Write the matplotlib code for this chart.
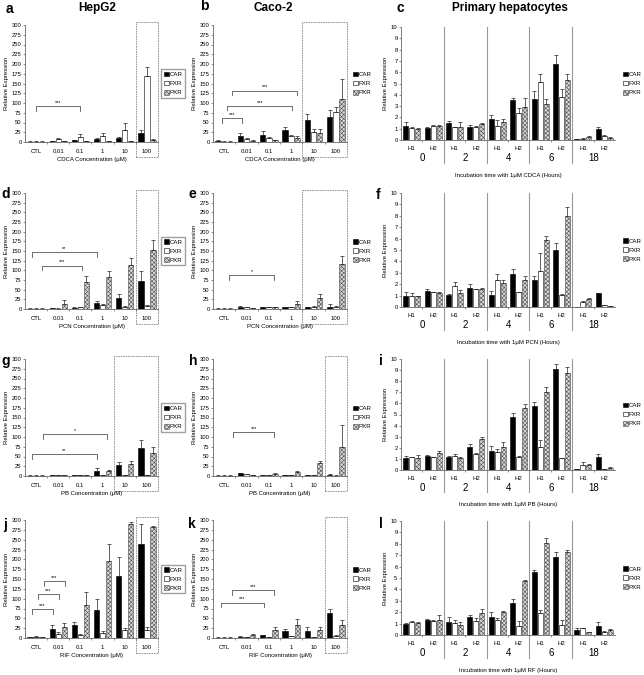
import numpy as np
import matplotlib.pyplot as plt
import matplotlib.transforms as mtransforms
from matplotlib.patches import Rectangle

plt.rcParams['font.family'] = ['Liberation Sans', 'DejaVu Sans']
plt.rcParams['hatch.linewidth'] = 0.4

W, H = 644, 675

conc = ['CTL', '0.01', '0.1', '1', '10', '100']
donors = ['H1', 'H2'] * 5
hours = ['0', '2', '4', '6', '18']
receptors = ['CAR', 'FXR', 'PXR']

# cell lines: rows are CAR, FXR, PXR over conc
a_vals = [[1, 2, 4, 8, 11, 22], [1, 8, 13, 16, 32, 168], [1, 2, 2, 3, 2, 6]]
a_errs = [[0.5, 0.5, 1, 2, 1, 8], [0.5, 2, 7, 8, 16, 25], [0.5, 0.5, 0.5, 0.5, 0.5, 1]]
b_vals = [[3, 15, 17, 30, 56, 65], [1, 8, 10, 15, 26, 78], [1, 3, 4, 10, 23, 111]]
b_errs = [[1, 7, 11, 9, 16, 18], [0.5, 2, 3, 3, 7, 11], [0.5, 1, 2, 6, 10, 50]]
d_vals = [[1, 2, 3, 15, 29, 73], [1, 1, 4, 10, 6, 9], [1, 12, 71, 84, 114, 153]]
d_errs = [[0.5, 0.5, 1, 6, 10, 24], [0.5, 0.5, 1, 2, 1, 2], [0.5, 11, 15, 14, 17, 26]]
e_vals = [[1, 6, 4, 4, 4, 5], [1, 4, 4, 4, 6, 5], [1, 2, 4, 12, 28, 116]]
e_errs = [[0.5, 1, 1, 1, 2, 7], [0.5, 1, 1, 1, 1, 4], [0.5, 1, 1, 9, 11, 22]]
g_vals = [[1, 2, 3, 13, 28, 71], [1, 3, 2, 2, 2, 3], [1, 2, 2, 12, 31, 60]]
g_errs = [[0.5, 0.5, 0.5, 7, 9, 22], [0.5, 0.5, 0.5, 0.5, 0.5, 0.5], [0.5, 0.5, 0.5, 3, 8, 15]]
h_vals = [[1, 7, 2, 2, 2, 3], [1, 5, 2, 2, 2, 1], [1, 2, 5, 11, 33, 75]]
h_errs = [[0.5, 1, 0.5, 0.5, 0.5, 1], [0.5, 1, 0.5, 0.5, 0.5, 0.5], [0.5, 0.5, 2, 2, 5, 56]]
j_vals = [[2, 23, 34, 72, 158, 239], [3, 10, 7, 13, 21, 21], [2, 28, 83, 197, 289, 283]]
j_errs = [[0.5, 9, 7, 28, 47, 50], [1, 5, 2, 4, 4, 6], [0.5, 10, 35, 41, 7, 3]]
k_vals = [[1, 3, 7, 17, 19, 64], [1, 3, 3, 4, 3, 6], [1, 8, 20, 34, 20, 34]]
k_errs = [[0.5, 1, 1, 7, 8, 9], [0.5, 0.5, 0.5, 0.5, 0.5, 1], [0.5, 3, 8, 14, 8, 13]]

# primary hepatocytes: 0H1, 0H2, 2H1, 2H2, 4H1, 4H2, 6H1, 6H2, 18H1, 18H2
c_vals = [[1.2, 1.03, 1.53, 1.12, 1.9, 3.5, 3.6, 6.76, 0.05, 0.94],
          [1.1, 1.24, 1.12, 1.18, 1.27, 2.35, 5.1, 3.8, 0.1, 0.35],
          [1.0, 1.26, 1.12, 1.42, 1.56, 2.9, 3.2, 5.3, 0.3, 0.2]]
c_errs = [[0.4, 0.1, 0.15, 0.2, 0.3, 0.2, 0.7, 0.8, 0.02, 0.25],
          [0.05, 0.05, 0.05, 0.05, 0.5, 0.45, 0.75, 0.75, 0.05, 0.08],
          [0.05, 0.05, 0.45, 0.12, 0.3, 0.8, 0.4, 0.5, 0.06, 0.03]]
f_vals = [[0.95, 1.4, 1.05, 1.7, 1.05, 2.9, 2.4, 5.0, 0.02, 1.2],
          [0.95, 1.3, 1.8, 1.55, 2.4, 1.3, 3.2, 1.05, 0.4, 0.15],
          [0.95, 1.25, 1.2, 1.6, 2.1, 2.4, 5.9, 8.0, 0.7, 0.1]]
f_errs = [[0.35, 0.2, 0.1, 0.3, 0.35, 0.45, 0.3, 0.6, 0.01, 0.05],
          [0.25, 0.05, 0.4, 0.05, 0.5, 0.05, 1.5, 0.05, 0.15, 0.02],
          [0.05, 0.05, 0.3, 0.05, 0.25, 0.3, 0.35, 0.8, 0.05, 0.02]]
i_vals = [[1.05, 1.27, 1.2, 2.05, 1.75, 4.76, 5.8, 9.1, 0.05, 1.2],
          [1.15, 1.15, 1.27, 1.45, 1.65, 1.2, 2.1, 1.05, 0.45, 0.1],
          [1.1, 1.5, 1.1, 2.8, 2.1, 5.57, 7.0, 8.7, 0.45, 0.2]]
i_errs = [[0.25, 0.05, 0.05, 0.3, 0.45, 0.35, 0.3, 0.45, 0.02, 0.2],
          [0.05, 0.05, 0.15, 0.05, 0.25, 0.05, 0.6, 0.05, 0.25, 0.02],
          [0.25, 0.2, 0.05, 0.2, 0.45, 0.4, 0.5, 0.6, 0.05, 0.03]]
l_vals = [[0.94, 1.3, 1.17, 1.55, 1.6, 2.8, 5.5, 6.87, 0.44, 0.82],
          [1.1, 1.23, 1.08, 1.23, 1.3, 0.8, 1.9, 0.88, 0.58, 0.29],
          [1.08, 1.3, 0.88, 1.9, 2.05, 4.77, 8.04, 7.25, 0.23, 0.44]]
l_errs = [[0.1, 0.1, 0.38, 0.2, 0.4, 0.4, 0.2, 0.45, 0.2, 0.35],
          [0.1, 0.05, 0.2, 0.3, 0.2, 0.45, 0.3, 0.42, 0.05, 0.05],
          [0.1, 0.45, 0.3, 0.4, 0.05, 0.05, 0.45, 0.2, 0.03, 0.05]]

# significance brackets: (from, to, height, stars)
a_sig = [(0.0, 2.0, 92, '***')]
b_sig = [(-0.1, 0.8, 61, '***'), (0.13, 3.05, 93, '***'), (0.36, 3.27, 132, '***')]
d_sig = [(-0.2, 2.75, 147, '**'), (0.27, 2.07, 112, '***')]
e_sig = [(0.22, 2.24, 88, '*')]
g_sig = [(0.31, 3.19, 108, '*'), (-0.18, 2.74, 56, '**')]
h_sig = [(0.4, 2.24, 112, '***')]
j_sig = [(-0.18, 0.76, 74, '***'), (0.09, 1.03, 112, '***'), (0.36, 1.3, 144, '***')]
k_sig = [(0.35, 2.24, 121, '***'), (-0.14, 1.79, 90, '***')]

styles = [dict(facecolor='black', edgecolor='black'),
          dict(facecolor='white', edgecolor='black'),
          dict(facecolor='#d9d9d9', edgecolor='#4d4d4d', hatch='xxxxxxxx')]

fig = plt.figure(figsize=(W / 100, H / 100), dpi=100)


def px_axes(x0, x1, top, bottom):
    return fig.add_axes([x0 / W, 1 - bottom / H, (x1 - x0) / W, (bottom - top) / H])


def draw_bars(ax, vals, errs, offs, legend_frame):
    x = np.arange(len(vals[0]))
    for k in range(3):
        ax.bar(x + offs[k], vals[k], width=0.24, linewidth=0.4, label=receptors[k],
               yerr=[np.zeros(len(x)), errs[k]], **styles[k],
               error_kw=dict(elinewidth=0.5, capsize=1.2, capthick=0.5, ecolor='#222222'))
    for s in ['top', 'right']:
        ax.spines[s].set_visible(False)
    for s in ['left', 'bottom']:
        ax.spines[s].set_linewidth(0.6)
        ax.spines[s].set_color('#666666')
    ax.tick_params(axis='y', labelsize=4.2, length=1.5, width=0.5, pad=1, color='#666666')
    ax.set_ylabel('Relative Expression', fontsize=4.3, labelpad=2)
    ax.legend(loc='center left', bbox_to_anchor=(1.025, 0.5), fontsize=4.4, frameon=legend_frame,
              fancybox=False, edgecolor='#888888', handlelength=0.8, handleheight=0.8,
              handletextpad=0.2, borderpad=0.4, labelspacing=0.6, borderaxespad=0)


def cell_panel(x0, x1, top, bottom, vals, errs, drug, sig, box, frame):
    ax = px_axes(x0, x1, top, bottom)
    draw_bars(ax, vals, errs, [-0.27, 0, 0.27], frame)
    ax.set_xlim(-0.5, 5.5)
    ax.set_ylim(0, 300)
    ax.set_yticks(np.arange(0, 301, 25))
    ax.set_xticks(range(len(conc)))
    ax.set_xticklabels(conc)
    ax.set_xticks(np.arange(0.5, 5, 1), minor=True)
    ax.tick_params(axis='x', which='major', length=0, labelsize=4.3, pad=5)
    ax.tick_params(axis='x', which='minor', length=1.5, width=0.5, color='#666666')
    ax.set_xlabel(drug + ' Concentration (μM)', fontsize=4.3, labelpad=2)
    for xa, xb, y, lab in sig:
        ax.plot([xa, xa, xb, xb], [y - 12, y, y, y - 12], color='#555555', lw=0.6)
        ax.text((xa + xb) / 2, y + 3, lab, ha='center', va='bottom', fontsize=4)
    tr = mtransforms.blended_transform_factory(ax.transData, ax.transAxes)
    ax.add_patch(Rectangle((box[0], -0.13), box[1] - box[0], 1.155, transform=tr,
                           fill=False, ec='#888888', lw=0.6, ls=(0, (2, 1)), clip_on=False))
    return ax


def hep_panel(x0, x1, top, bottom, vals, errs, drug):
    ax = px_axes(x0, x1, top, bottom)
    draw_bars(ax, vals, errs, [-0.28, 0, 0.28], False)
    ax.set_xlim(-0.5, 9.5)
    ax.set_ylim(0, 10)
    ax.set_yticks(range(11))
    ax.set_xticks(range(len(donors)))
    ax.set_xticklabels(donors)
    ax.set_xticks(np.arange(0.5, 9, 2), minor=True)
    ax.tick_params(axis='x', which='major', length=0, labelsize=4.3, pad=4)
    ax.tick_params(axis='x', which='minor', length=1.5, width=0.5, color='#666666')
    tr = mtransforms.blended_transform_factory(ax.transData, ax.transAxes)
    for xs in np.arange(1.5, 9, 2):
        ax.plot([xs, xs], [1.0, -0.2], transform=tr, color='#999999', lw=0.8, clip_on=False)
    for gi, hlab in enumerate(hours):
        ax.text(2 * gi + 0.5, -0.16, hlab, transform=tr, ha='center', va='center', fontsize=7)
    ax.text(0.5, -0.31, 'Incubation time with 1μM ' + drug + ' (Hours)', transform=ax.transAxes,
            ha='center', va='center', fontsize=4.3)
    return ax


cell_panel(25, 158, 25, 142, a_vals, a_errs, 'CDCA', a_sig, (4.5, 5.5), True)
cell_panel(213, 347, 25, 142, b_vals, b_errs, 'CDCA', b_sig, (3.5, 5.5), False)
hep_panel(401, 615, 27, 140, c_vals, c_errs, 'CDCA')
cell_panel(25, 158, 193, 309, d_vals, d_errs, 'PCN', d_sig, (4.5, 5.5), True)
cell_panel(213, 347, 193, 309, e_vals, e_errs, 'PCN', e_sig, (3.5, 5.5), False)
hep_panel(401, 615, 193, 307, f_vals, f_errs, 'PCN')
cell_panel(25, 158, 359, 476, g_vals, g_errs, 'PB', g_sig, (3.5, 5.5), True)
cell_panel(213, 347, 359, 476, h_vals, h_errs, 'PB', h_sig, (4.5, 5.5), False)
hep_panel(401, 615, 359, 470, i_vals, i_errs, 'PB')
cell_panel(25, 158, 520, 638, j_vals, j_errs, 'RIF', j_sig, (4.5, 5.5), True)
cell_panel(213, 347, 520, 638, k_vals, k_errs, 'RIF', k_sig, (4.5, 5.5), False)
hep_panel(401, 615, 521, 635, l_vals, l_errs, 'RF')

letters = [('a', 9, 9), ('b', 204, 6), ('c', 400, 8), ('d', 6, 194), ('e', 192, 194),
           ('f', 378, 195), ('g', 6, 361), ('h', 193, 361), ('i', 381, 361),
           ('j', 5, 525), ('k', 192, 524), ('l', 381, 524)]
for lab, lx, ly in letters:
    fig.text(lx / W, 1 - ly / H, lab, fontsize=10, weight='bold', ha='center', va='center')

titles = [('HepG2', 97, 8), ('Caco-2', 273, 8), ('Primary hepatocytes', 510, 8)]
for lab, tx, ty in titles:
    fig.text(tx / W, 1 - ty / H, lab, fontsize=8.5, weight='bold', ha='center', va='center')

fig.savefig('out.png', dpi=100)
